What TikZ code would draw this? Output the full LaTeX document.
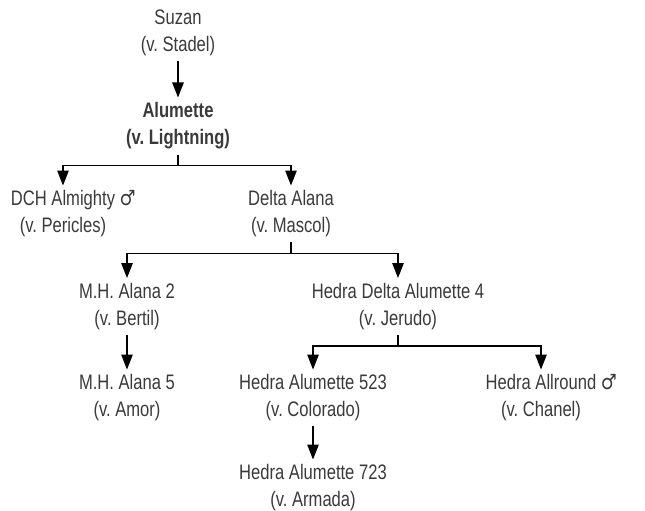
\documentclass[tikz,border=0pt]{standalone}
\usepackage{fontspec}
\setmainfont{Liberation Sans}[FakeStretch=0.79]
\newfontfamily\symfont{DejaVu Sans}[FakeStretch=0.85]
\usetikzlibrary{arrows.meta}
\definecolor{txt}{HTML}{3A3A3A}
\begin{document}
\frenchspacing
\begin{tikzpicture}[x=1pt,y=-1pt,
  dog/.style={align=center,text=txt,font=\fontsize{21}{27}\selectfont,inner sep=5pt},
  arr/.style={line width=1.3pt,-{Triangle[width=11.5pt,length=15pt]}}]
\useasboundingbox (0,0) rectangle (645,511);
\node[dog] (suzan) at (178,33) {Suzan\\(v. Stadel)};
\node[dog,font=\fontsize{21}{27}\selectfont\bfseries] (alum) at (178,126) {Alumette\\(v. Lightning)};
\node[dog] (dch) at (63,214) {DCH Almighty\rlap{ {\symfont ♂}}\\(v. Pericles)};
\node[dog] (delta) at (291,214) {Delta Alana\\(v. Mascol)};
\node[dog] (mh2) at (127,306.5) {M.H. Alana 2\\(v. Bertil)};
\node[dog] (hda4) at (398,306.5) {Hedra Delta Alumette 4\\(v. Jerudo)};
\node[dog] (mh5) at (127,398) {M.H. Alana 5\\(v. Amor)};
\node[dog] (ha523) at (313,398) {Hedra Alumette 523\\(v. Colorado)};
\node[dog] (allr) at (541,398) {Hedra Allround\rlap{ {\symfont ♂}}\\(v. Chanel)};
\node[dog] (ha723) at (313,488) {Hedra Alumette 723\\(v. Armada)};
\draw[arr] (suzan.south) -- (alum.north);
\draw[arr] (alum.south) -- ++(0,11) -| (dch.north);
\draw[arr] (alum.south) -- ++(0,11) -| (delta.north);
\draw[arr] (delta.south) -- ++(0,11) -| (mh2.north);
\draw[arr] (delta.south) -- ++(0,11) -| (hda4.north);
\draw[arr] (mh2.south) -- (mh5.north);
\draw[arr] (hda4.south) -- ++(0,11) -| (ha523.north);
\draw[arr] (hda4.south) -- ++(0,11) -| (allr.north);
\draw[arr] (ha523.south) -- (ha723.north);
\end{tikzpicture}
\end{document}
